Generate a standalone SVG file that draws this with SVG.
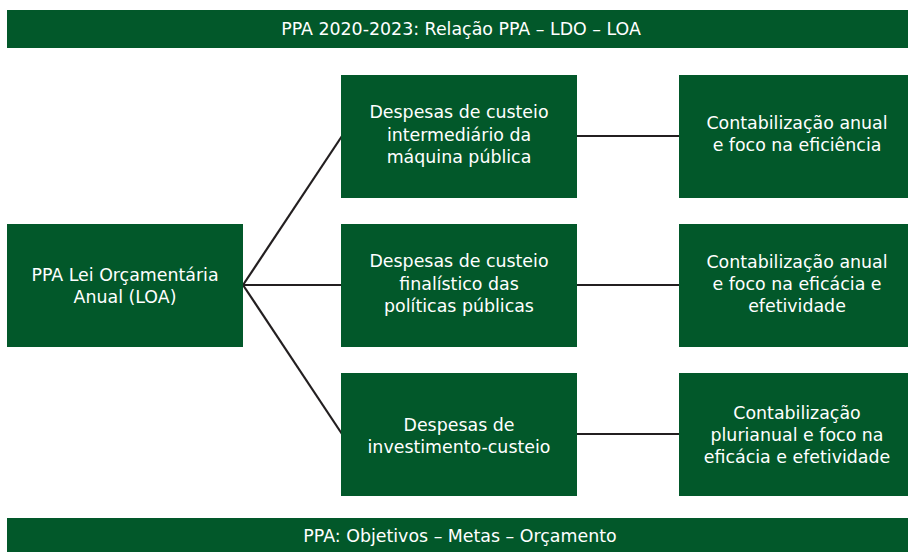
<svg xmlns="http://www.w3.org/2000/svg" width="908" height="552" viewBox="0 0 908 552">
<style>
.box{fill:#02582a}
.t{fill:#ffffff;font-family:"DejaVu Sans","Open Sans",sans-serif;font-size:17.4px;text-anchor:middle}
.c{stroke:#231f20;stroke-width:2.2;fill:none}
</style>
<rect width="908" height="552" fill="#ffffff"/>
<g id="header">
<rect class="box" x="7" y="10" width="901" height="38"/>
<text class="t" x="461" y="35">PPA 2020-2023: Relação PPA – LDO – LOA</text>
</g>
<g id="connectors">
<line class="c" x1="243" y1="285" x2="342" y2="136"/>
<line class="c" x1="243" y1="285" x2="342" y2="285"/>
<line class="c" x1="243" y1="285" x2="342" y2="434"/>
<line class="c" x1="577" y1="136" x2="679" y2="136" stroke-width="2.6"/>
<line class="c" x1="577" y1="285" x2="679" y2="285" stroke-width="2.6"/>
<line class="c" x1="577" y1="434" x2="679" y2="434" stroke-width="2.6"/>
</g>
<g id="loa">
<rect class="box" x="7" y="224" width="236" height="123"/>
<text class="t" x="125" y="281">PPA Lei Orçamentária</text>
<text class="t" x="125" y="303">Anual (LOA)</text>
</g>
<g id="custeio-intermediario">
<rect class="box" x="341" y="75" width="236" height="123"/>
<text class="t" x="459" y="118">Despesas de custeio</text>
<text class="t" x="459" y="140.5">intermediário da</text>
<text class="t" x="459" y="163">máquina pública</text>
</g>
<g id="custeio-finalistico">
<rect class="box" x="341" y="224" width="236" height="123"/>
<text class="t" x="459" y="267">Despesas de custeio</text>
<text class="t" x="459" y="289.5">finalístico das</text>
<text class="t" x="459" y="312">políticas públicas</text>
</g>
<g id="investimento">
<rect class="box" x="341" y="373" width="236" height="123"/>
<text class="t" x="459" y="431">Despesas de</text>
<text class="t" x="459" y="453">investimento-custeio</text>
</g>
<g id="eficiencia">
<rect class="box" x="679" y="75" width="229" height="123"/>
<text class="t" x="797" y="129">Contabilização anual</text>
<text class="t" x="797" y="151">e foco na eficiência</text>
</g>
<g id="eficacia">
<rect class="box" x="679" y="224" width="229" height="123"/>
<text class="t" x="797" y="268">Contabilização anual</text>
<text class="t" x="797" y="290">e foco na eficácia e</text>
<text class="t" x="797" y="312">efetividade</text>
</g>
<g id="plurianual">
<rect class="box" x="679" y="373" width="229" height="123"/>
<text class="t" x="797" y="419">Contabilização</text>
<text class="t" x="797" y="441">plurianual e foco na</text>
<text class="t" x="797" y="463">eficácia e efetividade</text>
</g>
<g id="footer">
<rect class="box" x="7" y="518" width="901" height="34"/>
<text class="t" x="460" y="542">PPA: Objetivos – Metas – Orçamento</text>
</g>
</svg>
